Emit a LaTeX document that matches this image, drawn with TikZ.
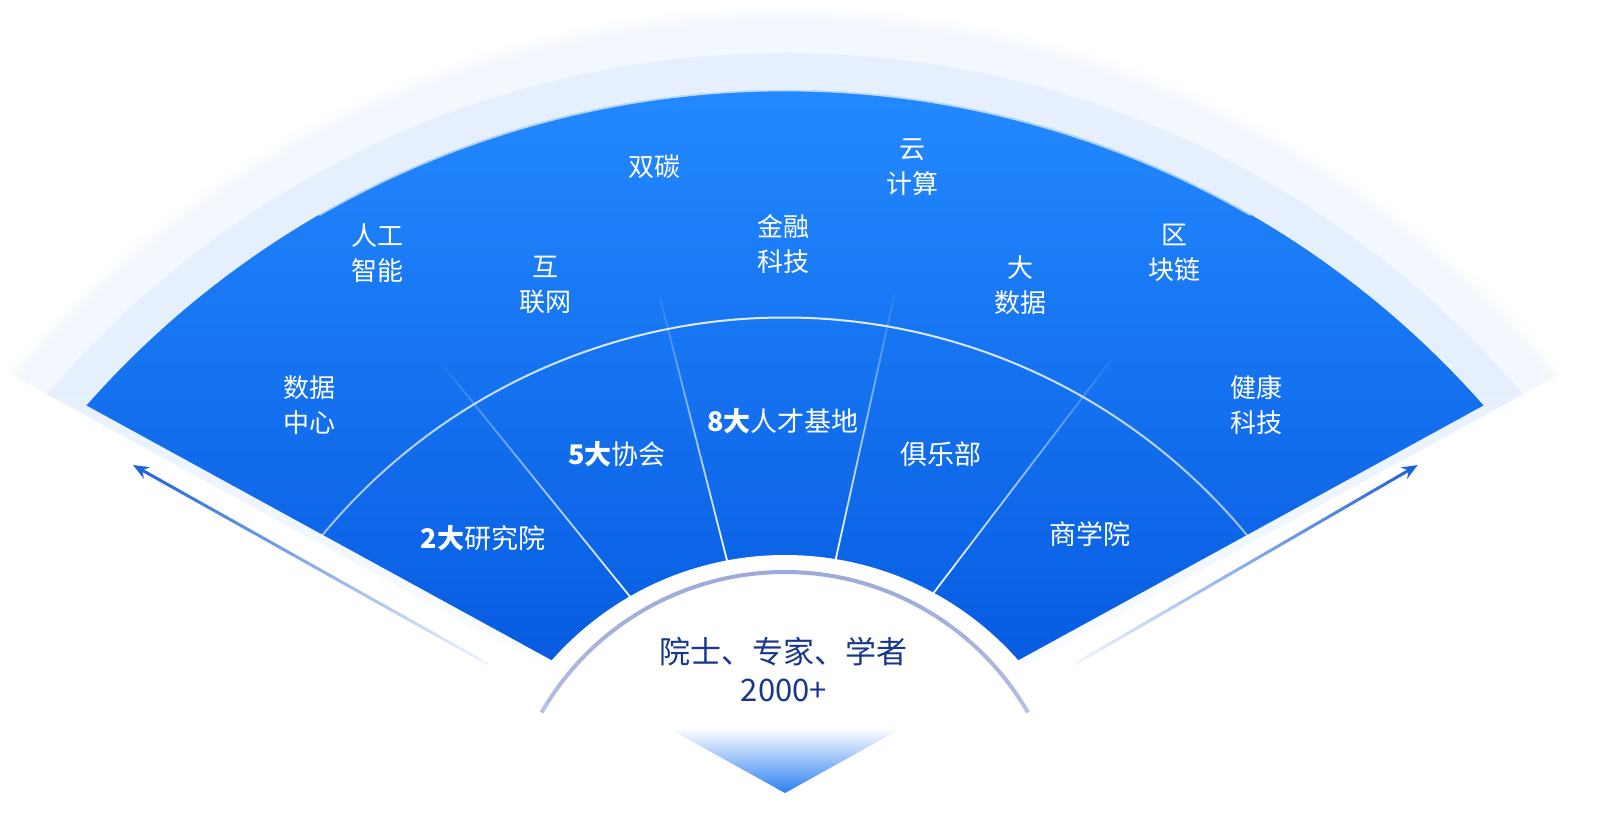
\documentclass[tikz,border=0pt]{standalone}
\usepackage{fontspec}
\newfontfamily\cjk{Noto Sans CJK SC}
\usetikzlibrary{fadings,arrows.meta}
\definecolor{fanTop}{HTML}{2389FF}
\definecolor{fanBot}{HTML}{0152DA}
\definecolor{paleband}{HTML}{E6F0FD}
\definecolor{faintband}{HTML}{F3F8FE}
\definecolor{ringc}{HTML}{95A5D6}
\definecolor{navy}{HTML}{17378C}
\definecolor{arrowc}{HTML}{1A62D6}
\definecolor{trib}{HTML}{2C80F2}
\tikzfading[name=fadeup, top color=transparent!95, bottom color=transparent!0, middle color=transparent!40]
\tikzfading[name=ringfade, top color=transparent!0, bottom color=transparent!100, middle color=transparent!25]
\tikzfading[name=midfade, top color=transparent!10, bottom color=transparent!88]
\tikzfading[name=arrL, left color=transparent!0, right color=transparent!95]
\tikzfading[name=arrR, left color=transparent!95, right color=transparent!0]
\tikzset{
  outerlbl/.style={text=white, align=center, font=\cjk\fontsize{26}{35}\selectfont},
  innerlbl/.style={text=white, align=center, font=\cjk\fontsize{27}{35}\selectfont},
  centerlbl/.style={text=navy, align=center, font=\cjk\fontsize{31}{38}\selectfont},
  divider/.style={white, line width=1.8pt, path fading=fadeup},
  midarc/.style={white, line width=2pt, path fading=midfade},
  ringarc/.style={ringc, line width=4pt, path fading=ringfade},
  sidearrow/.style={arrowc, line width=3pt, -{Stealth[length=16pt,width=13pt]}},
}
\begin{document}
\begin{tikzpicture}[x=1pt,y=1pt]
\useasboundingbox (-785,-48) rectangle (823,788);
% light bands behind the fan
\begin{scope}
  \clip (0,-10) -- (-1228.6,662.2) -- (-1400,1200) -- (1400,1200) -- (1228.6,662.2) -- cycle;
  \foreach \r/\o in {1014/0.15,1010/0.35,1006/0.6,1002/0.85}{
    \draw[faintband, line width=4pt, opacity=\o] (0,-233) circle (\r);
  }
  \begin{scope}
    \clip (0,-233) circle (1000);
    \fill[faintband] (-1100,400) rectangle (1100,1100);
    \shade[top color=faintband, bottom color=white] (-1100,80) rectangle (1100,400);
    \clip (0,-233) circle (968);
    \fill[paleband] (-1100,400) rectangle (1100,1100);
    \shade[top color=paleband, bottom color=white] (-1100,80) rectangle (1100,400);
  \end{scope}
\end{scope}
% side arrows
\coordinate (la1) at (-297,124);
\coordinate (la2) at (-652,323);
\coordinate (ra1) at (290,124);
\coordinate (ra2) at (633,323);
\draw[sidearrow, path fading=arrL] (la1) -- (la2);
\draw[sidearrow, path fading=arrR] (ra1) -- (ra2);
% blue fan
\begin{scope}
  \clip (0,0) -- (-1140.0,624.4) -- (-1400,1200) -- (1400,1200) -- (1140.0,624.4) -- cycle;
  \clip (0,-233) circle (931);
  \shade[top color=fanTop, bottom color=fanBot] (-900,0) rectangle (900,698);
\end{scope}
% top highlight
\draw[white, line width=1.5pt, path fading=midfade, opacity=0.8] (0,-233) ++(120:931) arc[start angle=120, end angle=60, radius=931];
% middle arc
\draw[midarc] (0,-129) ++(140.43:600) arc[start angle=140.43, end angle=39.57, radius=600];
% dividers
\draw[divider] (129:230) -- (129:541);
\draw[divider] (104.3:225) -- (104.3:507);
\draw[divider] (77.5:225) -- (77.5:507);
\draw[divider] (52.7:230) -- (52.7:537);
% white cap
\fill[white] (0,-78) circle (311);
\draw[ringarc] (0,-65) ++(150:281) arc[start angle=150, end angle=30, radius=281];
% bottom triangle
\shade[top color=white, bottom color=trib] (-117,60) -- (117,60) -- (0,-5) -- cycle;
% outer ring labels
\node[outerlbl] (sjzx) at (-475,383) {数据\\中心};
\node[outerlbl] (rgzn) at (-407,535) {人工\\智能};
\node[outerlbl] (hlw) at (-239,503) {互\\联网};
\node[outerlbl] (st) at (-130,621) {双碳};
\node[outerlbl] (jrkj) at (-2,544) {金融\\科技};
\node[outerlbl] (yjs) at (127,621) {云\\计算};
\node[outerlbl] (dsj) at (235,503) {大\\数据};
\node[outerlbl] (qkl) at (389,535) {区\\块链};
\node[outerlbl] (jkkj) at (471,383) {健康\\科技};
% inner ring labels
\node[innerlbl] (yjy) at (-302,250) {\textbf{2大}研究院};
\node[innerlbl] (xh) at (-168,334) {\textbf{5大}协会};
\node[innerlbl] (rcjd) at (-2,367) {\textbf{8大}人才基地};
\node[innerlbl] (jlb) at (156,334) {俱乐部};
\node[innerlbl] (sxy) at (305,254) {商学院};
% center
\node[centerlbl] (ys) at (-1,118) {院士、专家、学者\\2000+};
\end{tikzpicture}
\end{document}
